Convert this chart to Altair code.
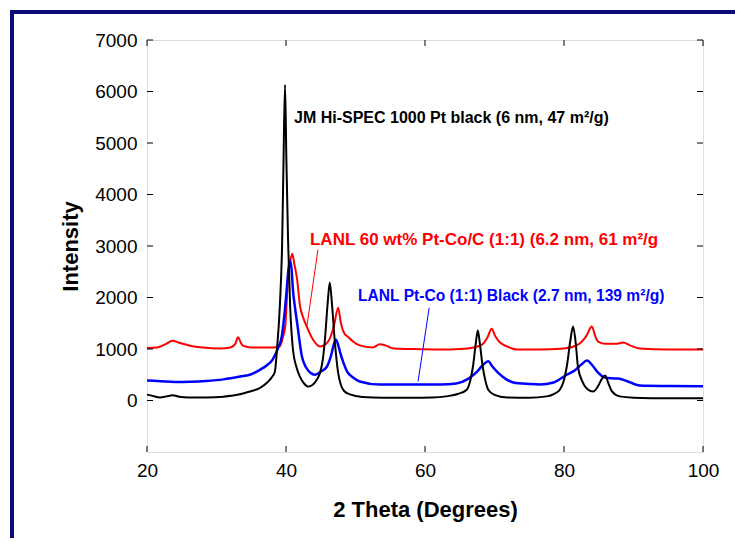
import altair as alt
import pandas as pd

# ---- data ----
black_x = [20, 20.8, 21.9, 22.8, 23.7, 24.6, 26, 28.6, 31, 33, 34.8, 36.2, 37.3, 37.9, 38.4, 38.7,
           39.1, 39.45, 39.65, 39.86, 40.05, 40.3, 40.6, 41.0, 41.5, 42.0, 42.6, 43.2, 43.8, 44.4,
           44.9, 45.3, 45.6, 46.0, 46.3, 46.6, 47.0, 47.5, 47.9, 48.4, 49.2, 51, 54, 58, 61, 63,
           64.8, 66.0, 66.5, 66.9, 67.3, 67.6, 67.9, 68.3, 68.7, 69.1, 70.0, 71.8, 75, 77.5, 78.6,
           79.4, 80.0, 80.4, 80.9, 81.3, 81.7, 82.0, 82.6, 83.3, 84.2, 84.9, 85.5, 85.9, 86.4, 86.9,
           88, 90, 95, 100]
black_y = [115, 90, 60, 80, 100, 75, 60, 60, 75, 110, 175, 240, 350, 440, 560, 990,
           1800, 3100, 4700, 6130, 4700, 3100, 1820, 990, 650, 465, 330, 270, 300, 400,
           540, 800, 1180, 1900, 2290, 1900, 1180, 540, 300, 180, 120, 70, 55, 55, 60, 80,
           130, 210, 380, 660, 1100, 1360, 1100, 660, 380, 210, 110, 60, 55, 80, 130,
           210, 400, 660, 1150, 1435, 1100, 660, 380, 230, 175, 280, 430, 485, 330, 175,
           80, 55, 45, 45]

blue_x = [20, 22, 24, 26.2, 28.5, 31, 33.4, 35, 36.3, 37.3, 38.1, 38.8, 39.4, 39.8, 40.1, 40.35,
          40.6, 40.8, 41.0, 41.3, 41.6, 42.3, 42.9, 43.5, 44.2, 45.0, 45.9, 46.5, 46.9, 47.2, 47.5,
          47.8, 48.3, 48.8, 49.6, 50.6, 53.5, 57, 60, 62.2, 64.5, 66.2, 67.5, 68.4, 69.1, 69.7,
          70.5, 71.5, 72.7, 75, 76.5, 78.5, 80.4, 81.5, 82.5, 83.3, 84.1, 84.9, 85.8, 86.8, 87.8,
          89.0, 90.9, 95, 100]
blue_y = [390, 375, 360, 365, 380, 410, 465, 510, 600, 690, 800, 1000, 1250, 1700, 2150, 2550,
          2715, 2550, 2150, 1800, 1510, 850, 640, 540, 500, 560, 660, 880, 1100, 1180, 1080,
          930, 720, 560, 450, 370, 310, 310, 310, 310, 330, 420, 560, 700, 760, 660,
          540, 430, 350, 320, 310, 350, 500, 580, 700, 775, 680, 540, 450, 430, 425,
          380, 290, 280, 275]

red_x = [20, 21.5, 22.6, 23.7, 24.6, 26.2, 28, 30.5, 32.0, 32.7, 33.1, 33.5, 33.8, 35, 38.1, 39.1,
         39.6, 39.9, 40.3, 40.6, 40.9, 41.2, 41.6, 42.0, 42.5, 43.0, 43.9, 44.9, 45.6, 46.3, 46.9,
         47.5, 47.9, 48.4, 48.9, 49.6, 50.6, 52.5, 53.5, 54.3, 55.5, 58, 62.2, 65, 67, 68.2, 69.0,
         69.6, 70.1, 70.8, 71.8, 73.2, 76.5, 80, 82.0, 83.2, 84.0, 84.5, 84.9, 86.0, 87.5, 88.5,
         89.5, 90.9, 95, 100]
red_y = [1020, 1030, 1090, 1160, 1120, 1065, 1030, 1010, 1030, 1100, 1230, 1120, 1065, 1030, 1030, 1050,
         1250, 1450, 2400, 2700, 2850, 2650, 2350, 1850, 1600, 1430, 1180, 1050, 1080, 1200, 1450,
         1800, 1500, 1300, 1240, 1150, 1070, 1030, 1090, 1070, 1010, 1000, 990, 1000, 1030, 1085, 1230,
         1395, 1250, 1125, 1050, 990, 990, 1010, 1085, 1250, 1435, 1250, 1145, 1100, 1100, 1125,
         1070, 1010, 990, 990]

x_ticks = [20, 40, 60, 80, 100]
y_ticks = [0, 1000, 2000, 3000, 4000, 5000, 6000, 7000]

labels = ["JM Hi-SPEC 1000 Pt black (6 nm, 47 m\u00b2/g)",
          "LANL 60 wt% Pt-Co/C (1:1) (6.2 nm, 61 m\u00b2/g",
          "LANL Pt-Co (1:1) Black (2.7 nm, 139 m\u00b2/g)"]
label_x = [41.15, 43.45, 50.36]
label_y = [5488, 3122, 2036]
label_color = ["#000000", "#ff0000", "#0000ff"]
label_size = [16, 17, 15.6]

# leader lines (start / end in data units)
lead_x = [44.6, 60.6]
lead_y = [2930, 1800]
lead_x2 = [43.0, 59.0]
lead_y2 = [1435, 370]
lead_color = ["#ff0000", "#0000ff"]

FONT = "Liberation Sans"
W, H = 556, 412

xs = alt.Scale(domain=[20, 100], nice=False, zero=False)
ys = alt.Scale(domain=[-1000, 7000], nice=False, zero=False)

xaxis = alt.Axis(values=x_ticks, title="2 Theta (Degrees)", ticks=False, domain=False, grid=False,
                 labelFlush=False, format="d",
                 labelFontSize=19, labelFont=FONT, labelColor="#000", labelPadding=9,
                 titleFont=FONT, titleFontSize=22, titleFontWeight="bold", titleColor="#000",
                 titlePadding=19)
yaxis = alt.Axis(values=y_ticks, title="Intensity", ticks=False, domain=False, grid=False,
                 labelFlush=False, format="d",
                 labelFontSize=19, labelFont=FONT, labelColor="#000", labelPadding=10,
                 titleFont=FONT, titleFontSize=22, titleFontWeight="bold", titleColor="#000",
                 titlePadding=12)


def series(xv, yv, color, sw):
    df = pd.DataFrame({"t": xv, "i": yv})
    return alt.Chart(df).mark_line(color=color, strokeWidth=sw, interpolate="monotone").encode(
        x=alt.X("t:Q", scale=xs, axis=xaxis),
        y=alt.Y("i:Q", scale=ys, axis=yaxis),
    )


red = series(red_x, red_y, "#ff0000", 2)
blue = series(blue_x, blue_y, "#0000ff", 2.5)
black = series(black_x, black_y, "#000000", 2)

lead_df = pd.DataFrame({"x": lead_x, "y": lead_y, "x2": lead_x2, "y2": lead_y2, "c": lead_color})
leads = alt.Chart(lead_df).mark_rule(strokeWidth=1).encode(
    x=alt.X("x:Q", scale=xs), y=alt.Y("y:Q", scale=ys),
    x2="x2:Q", y2="y2:Q", color=alt.Color("c:N", scale=None),
)

lab_df = pd.DataFrame({"x": label_x, "y": label_y, "txt": labels, "c": label_color,
                       "s": label_size})
texts = alt.Chart(lab_df).mark_text(align="left", baseline="middle", font=FONT,
                                     fontWeight="bold").encode(
    x=alt.X("x:Q", scale=xs), y=alt.Y("y:Q", scale=ys), text="txt:N",
    color=alt.Color("c:N", scale=None),
    size=alt.Size("s:Q", scale=None),
)

xt_df = pd.DataFrame({"v": x_ticks})
yt_df = pd.DataFrame({"v": y_ticks})
tick_style = dict(color="#000", strokeWidth=1)
xt_bot = alt.Chart(xt_df).mark_rule(**tick_style).encode(
    x=alt.X("v:Q", scale=xs), y=alt.value(H), y2=alt.value(H - 6))
xt_top = alt.Chart(xt_df).mark_rule(**tick_style).encode(
    x=alt.X("v:Q", scale=xs), y=alt.value(0), y2=alt.value(6))
yt_left = alt.Chart(yt_df).mark_rule(**tick_style).encode(
    y=alt.Y("v:Q", scale=ys), x=alt.value(0), x2=alt.value(6))
yt_right = alt.Chart(yt_df).mark_rule(**tick_style).encode(
    y=alt.Y("v:Q", scale=ys), x=alt.value(W), x2=alt.value(W - 6))

# slide frame (navy) on the left and top
dummy = pd.DataFrame({"a": [0]})
frame_left = alt.Chart(dummy).mark_rule(color="#0b0b7a", strokeWidth=4).encode(
    x=alt.value(-135), y=alt.value(-30), y2=alt.value(520))
frame_top = alt.Chart(dummy).mark_rule(color="#0b0b7a", strokeWidth=4).encode(
    y=alt.value(-28), x=alt.value(-137), x2=alt.value(620))

chart = alt.layer(
    red, blue, black, leads, texts, xt_bot, xt_top, yt_left, yt_right, frame_left, frame_top
).properties(
    width=W, height=H,
    padding={"left": 139, "top": 32, "right": 32, "bottom": 86},
    autosize=alt.AutoSizeParams(type="none"),
).configure_view(
    stroke="#222", strokeWidth=1
).configure(background="white")

chart.save("out.html", embed_options={"renderer": "svg", "actions": False})
